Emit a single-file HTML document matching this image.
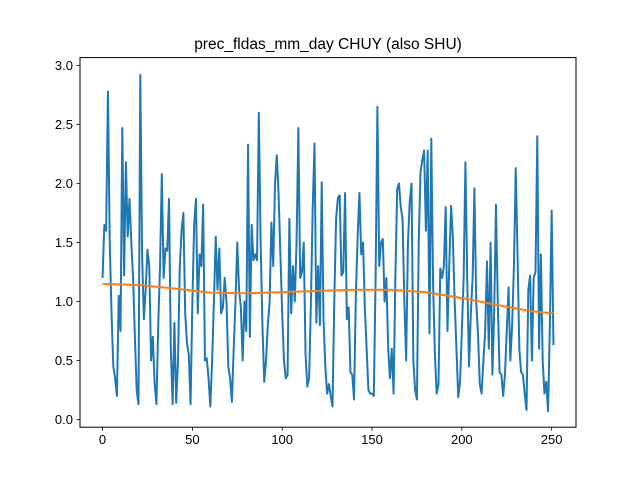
<!DOCTYPE html>
<html><head><meta charset="utf-8"><style>
html,body{margin:0;padding:0;background:#fff;}
svg text{font-family:"Liberation Sans","DejaVu Sans",sans-serif;}
</style></head><body>
<svg id="chart" width="640" height="480" xmlns="http://www.w3.org/2000/svg">
<rect width="640" height="480" fill="#fff"/>
<text x="328" y="49" text-anchor="middle" font-size="15.5">prec_fldas_mm_day CHUY (also SHU)</text>
<g id="grid"></g>
<g id="marks"></g>
<rect x="80" y="57.6" width="496" height="369.6" fill="none" stroke="#000" stroke-width="1"/>
</svg>
<script>
const values = [1.2,1.65,1.6,2.78,1.5,0.9,0.45,0.35,0.2,1.05,0.75,2.47,1.22,2.18,1.55,1.87,1.5,1.2,0.7,0.25,0.13,2.92,1.4,0.85,1.1,1.44,1.3,0.5,0.7,0.3,0.13,0.8,1.3,2.08,1.2,1.45,1.43,1.87,0.6,0.13,0.82,0.14,0.5,1.3,1.6,1.75,0.9,0.65,0.55,0.13,1.0,1.65,1.87,0.9,1.4,1.3,1.82,0.5,0.52,0.35,0.11,0.5,1.0,1.55,1.1,1.45,0.9,0.95,1.2,1.0,0.45,0.35,0.15,0.6,1.0,1.5,1.1,0.95,
0.5,1.0,0.75,2.33,0.7,1.65,1.35,1.4,1.35,2.6,1.5,0.8,0.32,0.5,0.8,1.0,1.67,1.3,2.0,2.24,1.9,1.4,0.9,0.5,0.35,0.38,1.7,0.9,1.3,1.0,1.5,2.47,1.2,1.25,1.5,0.55,0.28,0.35,1.0,1.8,2.34,0.82,1.3,0.8,2.01,0.85,0.45,0.22,0.3,0.2,0.11,1.0,1.7,1.88,1.9,1.22,1.25,1.92,0.85,0.95,0.4,0.38,0.17,1.05,1.55,1.92,1.4,1.5,0.95,0.6,0.25,0.22,0.22,0.2,1.2,2.65,1.3,1.5,1.53,1.0,1.2,0.6,0.35,0.6,0.22,1.2,1.95,2.0,1.8,1.7,1.0,0.5,1.5,1.85,2.0,0.5,0.25,0.17,1.5,2.1,2.2,2.28,1.6,2.28,0.73,2.38,1.15,0.55,0.22,0.3,1.28,1.2,1.3,1.8,0.75,1.3,1.81,1.55,1.0,0.6,0.19,0.32,0.75,1.2,2.18,1.2,0.45,0.9,1.2,1.96,1.0,0.72,0.3,0.22,0.5,0.75,1.34,0.6,1.5,0.38,0.9,1.82,1.0,0.4,0.38,0.2,0.38,0.75,1.12,0.5,0.8,1.3,2.13,1.4,0.6,0.4,0.38,0.22,0.08,1.1,1.22,0.5,1.2,1.25,2.4,0.6,1.4,0.5,0.22,0.32,0.07,0.8,1.77,0.63];
const trendX = [0,20,40,60,80,100,120,140,160,180,200,220,240,251];
const trendY = [1.15,1.14,1.11,1.075,1.07,1.08,1.09,1.10,1.10,1.08,1.03,0.97,0.915,0.90];
const xTicks = [0,50,100,150,200,250];
const yTicks = [0.0,0.5,1.0,1.5,2.0,2.5,3.0];
const yTickLabels = ["0.0","0.5","1.0","1.5","2.0","2.5","3.0"];

const L=80,R=576,T=57.6,B=427.2;
const xmin=-12.55,xmax=263.55,ymin=-0.065,ymax=3.067;
const sx=v=>L+(v-xmin)/(xmax-xmin)*(R-L);
const sy=v=>B-(v-ymin)/(ymax-ymin)*(B-T);
const NS="http://www.w3.org/2000/svg";
const grid=document.getElementById('grid'), marks=document.getElementById('marks');
function mk(tag,attrs,parent){const e=document.createElementNS(NS,tag);for(const k in attrs)e.setAttribute(k,attrs[k]);parent.appendChild(e);return e;}
xTicks.forEach(t=>{
  const l=mk('line',{x1:sx(t),x2:sx(t),y1:B,y2:B+3.5,stroke:'#000','stroke-width':0.8},grid);
  
  
  const tx=mk('text',{x:sx(t),y:B+17,'text-anchor':'middle','font-size':13},grid);
  tx.textContent=t;
  
  
});
yTicks.forEach((t,i)=>{
  const l=mk('line',{x1:L-3.5,x2:L,y1:sy(t),y2:sy(t),stroke:'#000','stroke-width':0.8},grid);
  
  
  const tx=mk('text',{x:L-7,y:sy(t)+4.5,'text-anchor':'end','font-size':13},grid);
  tx.textContent=yTickLabels[i];
  
  
});
const p1=mk('polyline',{points:values.map((v,i)=>sx(i)+','+sy(v)).join(' '),fill:'none',stroke:'#1f77b4','stroke-width':2,'stroke-linejoin':'round'},marks);


const p2=mk('polyline',{points:trendX.map((x,i)=>sx(x)+','+sy(trendY[i])).join(' '),fill:'none',stroke:'#ff7f0e','stroke-width':2,'stroke-linejoin':'round'},marks);


</script>
</body></html>
